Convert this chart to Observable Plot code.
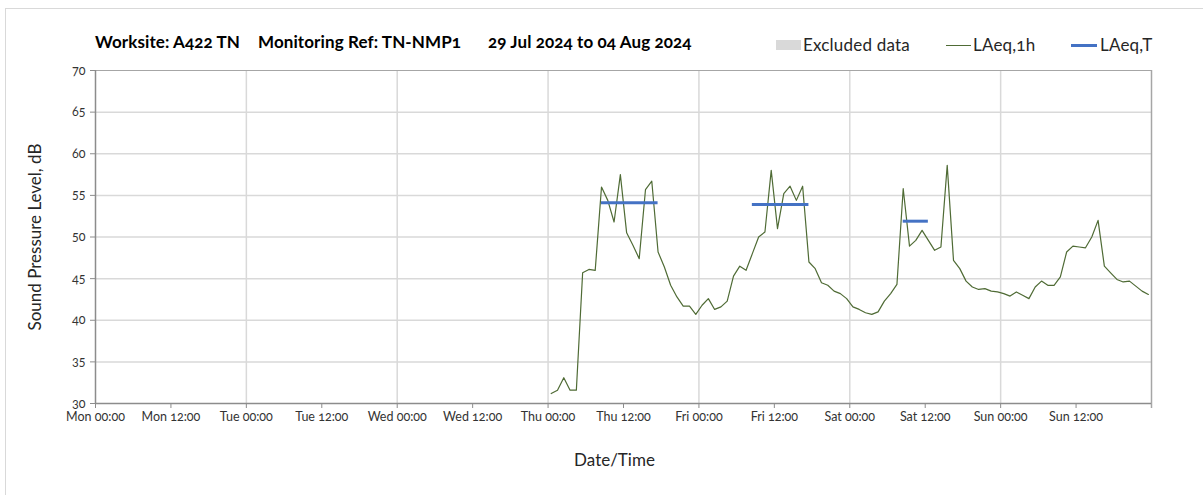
<!DOCTYPE html>
<html>
<head>
<meta charset="utf-8">
<script src="https://cdn.jsdelivr.net/npm/d3@7"></script>
<script src="https://cdn.jsdelivr.net/npm/@observablehq/plot@0.6"></script>
<style>
  body { margin: 0; background: #fff; font-family: Lato, "Open Sans", sans-serif; }
  #wrap { position: relative; width: 1203px; height: 495px; overflow: hidden; background: #fff; }
  #frame { position: absolute; left: 5px; top: 8px; width: 1400px; height: 700px; border-left: 1px solid #d9d9d9; border-top: 1px solid #d9d9d9; pointer-events: none; }
  #header { position: relative; height: 62px; }
  .t { position: absolute; top: 32px; line-height: 20px; font-weight: bold; font-size: 17px; letter-spacing: 0.1px; color: #000; white-space: nowrap; font-variant-numeric: oldstyle-nums; }
  .lg { position: absolute; top: 35px; line-height: 20px; font-size: 17px; letter-spacing: 0.2px; color: #262626; white-space: nowrap; font-variant-numeric: oldstyle-nums; }
  .sw { position: absolute; }
  #chart { position: relative; }
  svg text { font-variant-numeric: oldstyle-nums; }
</style>
</head>
<body>
<div id="wrap">
  <div id="frame"></div>
  <div id="header">
    <div class="t" style="left:95px">Worksite: A422 TN</div>
    <div class="t" style="left:258px">Monitoring Ref: TN-NMP1</div>
    <div class="t" style="left:488px">29 Jul 2024 to 04 Aug 2024</div>
    <div class="sw" style="left:776px;top:40px;width:25px;height:10px;background:#d9d9d9"></div>
    <div class="lg" style="left:803px">Excluded data</div>
    <div class="sw" style="left:946px;top:44.5px;width:25px;height:1.2px;background:#4f6b35"></div>
    <div class="lg" style="left:973px">LAeq,1h</div>
    <div class="sw" style="left:1071px;top:43.5px;width:26px;height:3px;background:#4472c4"></div>
    <div class="lg" style="left:1100px">LAeq,T</div>
  </div>
  <div id="chart"></div>
</div>
<script>
// Hourly LAeq,1h values, starting Thu 01 Aug 2024 00:30 (one value per hour)
const firstHour = "2024-08-01T00:30:00Z";
const laeq1hThu = [31.2, 31.6, 33.1, 31.6, 31.6, 45.7, 46.1, 46.0, 56.0, 54.4, 51.8, 57.5, 50.5, 49.0, 47.4, 55.7, 56.7, 48.2, 46.4, 44.2, 42.8, 41.7, 41.7, 40.7];
const laeq1hFri = [41.8, 42.6, 41.3, 41.6, 42.3, 45.3, 46.5, 46.0, 48.0, 50.0, 50.6, 58.0, 51.0, 55.2, 56.1, 54.4, 56.1, 47.0, 46.2, 44.5, 44.2, 43.5, 43.2, 42.6];
const laeq1hSat = [41.6, 41.3, 40.9, 40.7, 41.0, 42.3, 43.2, 44.3, 55.8, 48.9, 49.6, 50.8, 49.6, 48.4, 48.8, 58.6, 47.2, 46.2, 44.7, 44.0, 43.7, 43.8, 43.5, 43.4];
const laeq1hSun = [43.2, 42.9, 43.4, 43.0, 42.6, 44.0, 44.7, 44.2, 44.2, 45.2, 48.2, 48.9, 48.8, 48.7, 50.0, 52.0, 46.5, 45.7, 44.9, 44.6, 44.7, 44.1, 43.5, 43.1];

// LAeq,T periods
const periodStart = ["2024-08-01T08:30:00Z", "2024-08-02T08:30:00Z", "2024-08-03T08:30:00Z"];
const periodEnd   = ["2024-08-01T17:30:00Z", "2024-08-02T17:30:00Z", "2024-08-03T12:30:00Z"];
const laeqT = [54.1, 53.9, 51.9];

// Axis
const xStartStr = "2024-07-29T00:00:00Z";
const xEndStr = "2024-08-05T00:00:00Z";
const yTicks = [30, 35, 40, 45, 50, 55, 60, 65, 70];

const xStart = new Date(xStartStr), xEnd = new Date(xEndStr);
const xTicks = d3.utcHour.every(12).range(xStart, xEnd);
const dayLines = d3.utcDay.range(d3.utcDay.offset(xStart, 1), xEnd);
const allValues = [...laeq1hThu, ...laeq1hFri, ...laeq1hSat, ...laeq1hSun];
const t0 = new Date(firstHour);
const hourly = allValues.map((v, i) => ({time: d3.utcHour.offset(t0, i), value: v}));
const periods = laeqT.map((v, i) => ({start: new Date(periodStart[i]), end: new Date(periodEnd[i]), value: v}));

const chart = Plot.plot({
  width: 1203,
  height: 433,
  marginTop: 8,
  marginBottom: 30 + 62,
  marginLeft: 95,
  marginRight: 52,
  style: {fontFamily: "Lato, 'Open Sans', sans-serif", fontSize: "12.5px", color: "#333", background: "transparent"},
  x: {type: "utc", domain: [xStart, xEnd]},
  y: {domain: [30, 70]},
  marks: [
    Plot.ruleY(yTicks.filter(d => d > 30 && d < 70), {stroke: "#d9d9d9", strokeWidth: 1.5}),
    Plot.ruleX(dayLines, {stroke: "#d9d9d9", strokeWidth: 1.5}),
    Plot.ruleY([70], {stroke: "#a6a6a6", strokeWidth: 1.2}),
    Plot.ruleX([xEnd], {stroke: "#a6a6a6", strokeWidth: 1.5, insetBottom: -5}),
    Plot.axisY({ticks: yTicks, tickSize: 5, tickPadding: 5, stroke: "#8c8c8c", fill: "#333", label: null}),
    Plot.axisX({ticks: xTicks, tickFormat: d3.utcFormat("%a %H:%M"), tickSize: 5, tickPadding: 4, stroke: "#8c8c8c", fill: "#333", label: null}),
    Plot.ruleY([30], {stroke: "#8c8c8c", strokeWidth: 1.5}),
    Plot.ruleX([xStart], {stroke: "#8c8c8c", strokeWidth: 1.5}),
    Plot.line(hourly, {x: "time", y: "value", stroke: "#4f6b35", strokeWidth: 1.2}),
    Plot.ruleY(periods, {x1: "start", x2: "end", y: "value", stroke: "#4472c4", strokeWidth: 3}),
    Plot.text(["Date/Time"], {frameAnchor: "bottom", dx: -9, dy: 62, fontSize: 17, fill: "#262626"}),
    Plot.text(["Sound Pressure Level, dB"], {frameAnchor: "left", dx: -60, rotate: -90, textAnchor: "middle", fontSize: 17, fill: "#262626"})
  ]
});
document.getElementById("chart").appendChild(chart);
</script>
</body>
</html>
